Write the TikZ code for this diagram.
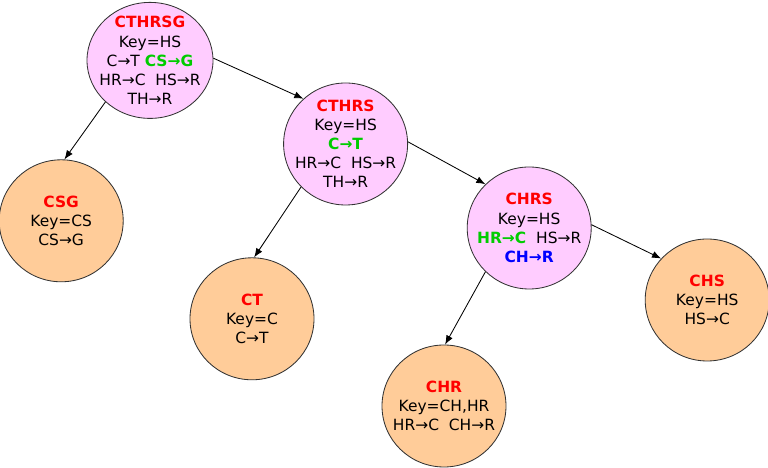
\documentclass[tikz,border=0pt]{standalone}
\usepackage{fontspec}
\setmainfont{DejaVu Sans}
\usetikzlibrary{arrows.meta,shapes.geometric}

\definecolor{pinkfill}{RGB}{255,204,255}
\definecolor{orangefill}{RGB}{255,204,153}
\definecolor{keygreen}{RGB}{0,204,0}
\definecolor{keyblue}{RGB}{0,0,255}

\newcommand{\ttl}[1]{\textcolor{red}{\textbf{#1}}}
\newcommand{\grn}[1]{\textcolor{keygreen}{\textbf{#1}}}
\newcommand{\blu}[1]{\textcolor{keyblue}{\textbf{#1}}}

\begin{document}
\begin{tikzpicture}[
    font=\fontsize{11}{13.6}\selectfont,
    splitN/.style={ellipse, draw=black!80, line width=0.6pt, fill=pinkfill,
                   minimum width=3.1cm, minimum height=3.05cm, inner sep=-10pt,
                   align=center},
    leafN/.style={ellipse, draw=black!80, line width=0.6pt, fill=orangefill,
                  minimum width=3.1cm, minimum height=3.05cm, inner sep=-10pt,
                  align=center},
    arr/.style={-{Latex[length=6.5pt,width=5pt]}, line width=0.6pt}
]
    \path[use as bounding box] (0,0) rectangle (19.2,11.7);

    \node[splitN, minimum width=3.15cm, minimum height=2.9cm] (cthrsg) at (3.75,10.19)
        {\ttl{CTHRSG}\\ Key=HS\\ C→T \grn{CS→G}\\ HR→C\ \ HS→R\\ TH→R};
    \node[splitN] (cthrs) at (8.64,8.10)
        {\ttl{CTHRS}\\ Key=HS\\ \grn{C→T}\\ HR→C\ \ HS→R\\ TH→R};
    \node[splitN] (chrs) at (13.23,6.00)
        {\ttl{CHRS}\\ Key=HS\\ \grn{HR→C}\ \ HS→R\\ \blu{CH→R}};

    \node[leafN] (csg) at (1.53,6.18) {\ttl{CSG}\\ Key=CS\\ CS→G};
    \node[leafN] (ct) at (6.30,3.73) {\ttl{CT}\\ Key=C\\ C→T};
    \node[leafN] (chr) at (11.10,1.55) {\ttl{CHR}\\ Key=CH,HR\\ HR→C\ \ CH→R};
    \node[leafN] (chs) at (17.68,4.20) {\ttl{CHS}\\ Key=HS\\ HS→C};

    \draw[arr] (cthrsg.223) -- (csg.87);
    \draw[arr] (cthrsg.2) -- (cthrs.133);
    \draw[arr] (cthrs.224) -- (ct.88);
    \draw[arr] (cthrs.2) -- (chrs.135);
    \draw[arr] (chrs.225) -- (chr.89);
    \draw[arr] (chrs.3) -- (chs.138);
\end{tikzpicture}
\end{document}
